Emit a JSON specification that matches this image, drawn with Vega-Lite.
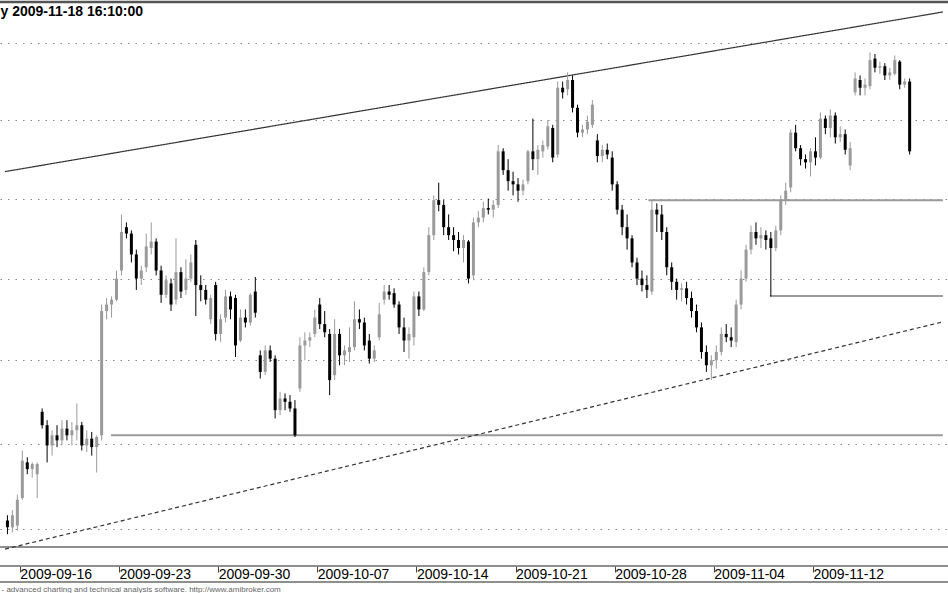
{
  "$schema": "https://vega.github.io/schema/vega-lite/v6.json",
  "width": 948,
  "height": 580,
  "autosize": "none",
  "padding": {"left": 0, "top": 2, "right": 0, "bottom": 11},
  "background": "white",
  "config": {"view": {"stroke": null}, "font": "Liberation Sans"},
  "datasets": {
    "top": [{"p": 2577.3}],
    "frame": [{"p": 2239.6}, {"p": 2228.65}, {"p": 2219.5}],
    "levels": [{"a": 17.9, "b": 185.7, "p": 2305}, {"a": 126.3, "b": 185.7, "p": 2449}, {"a": 150.8, "b": 185.7, "p": 2389.3}],
    "trends": [{"kind": "solid", "a": -3.49, "b": 185.73, "pa": 2467.1, "pb": 2570.7}, {"kind": "dashed", "a": -3.49, "b": 185.73, "pa": 2238.4, "pb": 2373.4}],
    "bars": [
{"i":-3,"o":2255,"h":2258,"l":2247,"c":2251},
{"i":-2,"o":2251,"h":2261,"l":2248,"c":2258},
{"i":-1,"o":2252,"h":2270,"l":2249,"c":2267},
{"i":0,"o":2268,"h":2296,"l":2267,"c":2290},
{"i":1,"o":2289,"h":2292,"l":2282,"c":2285},
{"i":2,"o":2285,"h":2289,"l":2280,"c":2288},
{"i":3,"o":2282,"h":2289,"l":2268,"c":2288},
{"i":4,"o":2319,"h":2321,"l":2309,"c":2311},
{"i":5,"o":2311,"h":2314,"l":2289,"c":2299},
{"i":6,"o":2299,"h":2308,"l":2293,"c":2305},
{"i":7,"o":2305,"h":2311,"l":2298,"c":2302},
{"i":8,"o":2302,"h":2314,"l":2299,"c":2309},
{"i":9,"o":2309,"h":2314,"l":2302,"c":2305},
{"i":10,"o":2305,"h":2313,"l":2299,"c":2308},
{"i":11,"o":2308,"h":2324,"l":2302,"c":2311},
{"i":12,"o":2311,"h":2313,"l":2296,"c":2299},
{"i":13,"o":2299,"h":2308,"l":2295,"c":2303},
{"i":14,"o":2303,"h":2307,"l":2293,"c":2298},
{"i":15,"o":2298,"h":2305,"l":2283,"c":2304},
{"i":16,"o":2305,"h":2384,"l":2302,"c":2380},
{"i":17,"o":2380,"h":2388,"l":2375,"c":2384},
{"i":18,"o":2384,"h":2389,"l":2376,"c":2387},
{"i":19,"o":2387,"h":2405,"l":2386,"c":2400},
{"i":20,"o":2405,"h":2440,"l":2402,"c":2429},
{"i":21,"o":2432,"h":2435,"l":2425,"c":2428},
{"i":22,"o":2428,"h":2430,"l":2410,"c":2415},
{"i":23,"o":2415,"h":2418,"l":2393,"c":2400},
{"i":24,"o":2400,"h":2408,"l":2396,"c":2405},
{"i":25,"o":2407,"h":2428,"l":2404,"c":2420},
{"i":26,"o":2419,"h":2435,"l":2415,"c":2423},
{"i":27,"o":2423,"h":2425,"l":2402,"c":2405},
{"i":28,"o":2405,"h":2408,"l":2385,"c":2390},
{"i":29,"o":2390,"h":2402,"l":2388,"c":2399},
{"i":30,"o":2397,"h":2400,"l":2380,"c":2384},
{"i":31,"o":2387,"h":2425,"l":2384,"c":2404},
{"i":32,"o":2404,"h":2407,"l":2388,"c":2392},
{"i":33,"o":2393,"h":2412,"l":2390,"c":2400},
{"i":34,"o":2400,"h":2415,"l":2398,"c":2410},
{"i":35,"o":2421,"h":2424,"l":2377,"c":2396},
{"i":36,"o":2396,"h":2402,"l":2386,"c":2393},
{"i":37,"o":2393,"h":2396,"l":2384,"c":2387},
{"i":38,"o":2375,"h":2390,"l":2372,"c":2388},
{"i":39,"o":2396,"h":2398,"l":2362,"c":2366},
{"i":40,"o":2366,"h":2378,"l":2361,"c":2375},
{"i":41,"o":2376,"h":2393,"l":2373,"c":2389},
{"i":42,"o":2389,"h":2392,"l":2375,"c":2381},
{"i":43,"o":2388,"h":2390,"l":2352,"c":2359},
{"i":44,"o":2362,"h":2381,"l":2361,"c":2376},
{"i":45,"o":2376,"h":2381,"l":2370,"c":2373},
{"i":46,"o":2373,"h":2391,"l":2371,"c":2390},
{"i":47,"o":2392,"h":2401,"l":2376,"c":2379},
{"i":48,"o":2353,"h":2356,"l":2339,"c":2343},
{"i":49,"o":2343,"h":2359,"l":2341,"c":2356},
{"i":50,"o":2356,"h":2359,"l":2349,"c":2351},
{"i":51,"o":2351,"h":2353,"l":2315,"c":2320},
{"i":52,"o":2320,"h":2331,"l":2317,"c":2327},
{"i":53,"o":2327,"h":2330,"l":2320,"c":2325},
{"i":54,"o":2325,"h":2329,"l":2319,"c":2321},
{"i":55,"o":2321,"h":2326,"l":2304,"c":2305},
{"i":56,"o":2333,"h":2364,"l":2331,"c":2359},
{"i":57,"o":2359,"h":2367,"l":2350,"c":2362},
{"i":58,"o":2362,"h":2367,"l":2358,"c":2364},
{"i":59,"o":2366,"h":2381,"l":2364,"c":2376},
{"i":60,"o":2384,"h":2388,"l":2369,"c":2372},
{"i":61,"o":2372,"h":2380,"l":2364,"c":2367},
{"i":62,"o":2366,"h":2369,"l":2329,"c":2338},
{"i":63,"o":2341,"h":2375,"l":2338,"c":2366},
{"i":64,"o":2366,"h":2369,"l":2347,"c":2353},
{"i":65,"o":2353,"h":2359,"l":2347,"c":2356},
{"i":66,"o":2355,"h":2370,"l":2349,"c":2358},
{"i":67,"o":2358,"h":2386,"l":2356,"c":2375},
{"i":68,"o":2375,"h":2381,"l":2369,"c":2373},
{"i":69,"o":2373,"h":2376,"l":2356,"c":2359},
{"i":70,"o":2362,"h":2366,"l":2348,"c":2351},
{"i":71,"o":2351,"h":2359,"l":2349,"c":2356},
{"i":72,"o":2364,"h":2385,"l":2362,"c":2378},
{"i":73,"o":2387,"h":2396,"l":2384,"c":2392},
{"i":74,"o":2392,"h":2396,"l":2387,"c":2390},
{"i":75,"o":2391,"h":2394,"l":2382,"c":2384},
{"i":76,"o":2384,"h":2386,"l":2366,"c":2370},
{"i":77,"o":2370,"h":2376,"l":2355,"c":2362},
{"i":78,"o":2362,"h":2370,"l":2351,"c":2366},
{"i":79,"o":2364,"h":2392,"l":2359,"c":2389},
{"i":80,"o":2389,"h":2392,"l":2377,"c":2381},
{"i":81,"o":2381,"h":2407,"l":2380,"c":2404},
{"i":82,"o":2404,"h":2432,"l":2402,"c":2427},
{"i":83,"o":2427,"h":2452,"l":2424,"c":2449},
{"i":84,"o":2449,"h":2460,"l":2442,"c":2446},
{"i":85,"o":2446,"h":2449,"l":2427,"c":2432},
{"i":86,"o":2432,"h":2440,"l":2424,"c":2427},
{"i":87,"o":2427,"h":2432,"l":2417,"c":2424},
{"i":88,"o":2424,"h":2429,"l":2415,"c":2419},
{"i":89,"o":2419,"h":2427,"l":2410,"c":2424},
{"i":90,"o":2423,"h":2424,"l":2397,"c":2400},
{"i":91,"o":2402,"h":2438,"l":2399,"c":2435},
{"i":92,"o":2435,"h":2442,"l":2432,"c":2438},
{"i":93,"o":2438,"h":2448,"l":2435,"c":2444},
{"i":94,"o":2444,"h":2450,"l":2440,"c":2443},
{"i":95,"o":2443,"h":2449,"l":2438,"c":2446},
{"i":96,"o":2446,"h":2484,"l":2444,"c":2480},
{"i":97,"o":2480,"h":2482,"l":2465,"c":2468},
{"i":98,"o":2468,"h":2475,"l":2455,"c":2461},
{"i":99,"o":2461,"h":2467,"l":2452,"c":2459},
{"i":100,"o":2459,"h":2463,"l":2448,"c":2455},
{"i":101,"o":2455,"h":2462,"l":2452,"c":2459},
{"i":102,"o":2461,"h":2481,"l":2459,"c":2480},
{"i":103,"o":2480,"h":2501,"l":2468,"c":2475},
{"i":104,"o":2475,"h":2484,"l":2465,"c":2481},
{"i":105,"o":2480,"h":2487,"l":2476,"c":2484},
{"i":106,"o":2483,"h":2500,"l":2481,"c":2496},
{"i":107,"o":2495,"h":2497,"l":2473,"c":2476},
{"i":108,"o":2478,"h":2525,"l":2476,"c":2521},
{"i":109,"o":2521,"h":2525,"l":2514,"c":2518},
{"i":110,"o":2520,"h":2531,"l":2516,"c":2526},
{"i":111,"o":2526,"h":2529,"l":2505,"c":2508},
{"i":112,"o":2508,"h":2510,"l":2489,"c":2492},
{"i":113,"o":2492,"h":2497,"l":2489,"c":2494},
{"i":114,"o":2494,"h":2503,"l":2491,"c":2499},
{"i":115,"o":2497,"h":2513,"l":2495,"c":2510},
{"i":116,"o":2487,"h":2491,"l":2473,"c":2477},
{"i":117,"o":2477,"h":2484,"l":2473,"c":2481},
{"i":118,"o":2481,"h":2485,"l":2475,"c":2478},
{"i":119,"o":2476,"h":2480,"l":2455,"c":2459},
{"i":120,"o":2459,"h":2461,"l":2440,"c":2443},
{"i":121,"o":2443,"h":2446,"l":2427,"c":2432},
{"i":122,"o":2432,"h":2440,"l":2418,"c":2425},
{"i":123,"o":2425,"h":2427,"l":2407,"c":2410},
{"i":124,"o":2410,"h":2413,"l":2396,"c":2400},
{"i":125,"o":2400,"h":2405,"l":2392,"c":2396},
{"i":126,"o":2396,"h":2402,"l":2388,"c":2393},
{"i":127,"o":2392,"h":2449,"l":2390,"c":2443},
{"i":128,"o":2443,"h":2447,"l":2429,"c":2440},
{"i":129,"o":2440,"h":2446,"l":2424,"c":2429},
{"i":130,"o":2429,"h":2432,"l":2402,"c":2407},
{"i":131,"o":2407,"h":2410,"l":2393,"c":2398},
{"i":132,"o":2398,"h":2400,"l":2387,"c":2393},
{"i":133,"o":2393,"h":2397,"l":2386,"c":2394},
{"i":134,"o":2394,"h":2398,"l":2384,"c":2388},
{"i":135,"o":2388,"h":2392,"l":2376,"c":2380},
{"i":136,"o":2380,"h":2384,"l":2367,"c":2370},
{"i":137,"o":2370,"h":2373,"l":2351,"c":2355},
{"i":138,"o":2355,"h":2359,"l":2343,"c":2347},
{"i":139,"o":2347,"h":2353,"l":2338,"c":2350},
{"i":140,"o":2350,"h":2359,"l":2345,"c":2355},
{"i":141,"o":2355,"h":2370,"l":2353,"c":2366},
{"i":142,"o":2366,"h":2372,"l":2361,"c":2364},
{"i":143,"o":2364,"h":2370,"l":2358,"c":2362},
{"i":144,"o":2361,"h":2387,"l":2358,"c":2384},
{"i":145,"o":2384,"h":2405,"l":2381,"c":2400},
{"i":146,"o":2400,"h":2421,"l":2398,"c":2418},
{"i":147,"o":2418,"h":2433,"l":2415,"c":2429},
{"i":148,"o":2429,"h":2435,"l":2421,"c":2425},
{"i":149,"o":2425,"h":2432,"l":2419,"c":2427},
{"i":150,"o":2427,"h":2430,"l":2418,"c":2424},
{"i":151,"o":2425,"h":2429,"l":2389,"c":2419},
{"i":152,"o":2419,"h":2433,"l":2417,"c":2430},
{"i":153,"o":2430,"h":2452,"l":2427,"c":2449},
{"i":154,"o":2449,"h":2460,"l":2446,"c":2455},
{"i":155,"o":2457,"h":2494,"l":2454,"c":2492},
{"i":156,"o":2492,"h":2497,"l":2480,"c":2482},
{"i":157,"o":2482,"h":2484,"l":2471,"c":2475},
{"i":158,"o":2475,"h":2478,"l":2469,"c":2473},
{"i":159,"o":2473,"h":2482,"l":2464,"c":2480},
{"i":160,"o":2480,"h":2489,"l":2471,"c":2476},
{"i":161,"o":2476,"h":2505,"l":2475,"c":2501},
{"i":162,"o":2501,"h":2503,"l":2491,"c":2495},
{"i":163,"o":2495,"h":2507,"l":2489,"c":2503},
{"i":164,"o":2503,"h":2505,"l":2485,"c":2489},
{"i":165,"o":2489,"h":2496,"l":2486,"c":2491},
{"i":166,"o":2491,"h":2494,"l":2478,"c":2481},
{"i":167,"o":2471,"h":2486,"l":2468,"c":2482},
{"i":168,"o":2518,"h":2531,"l":2516,"c":2527},
{"i":169,"o":2526,"h":2529,"l":2516,"c":2521},
{"i":170,"o":2521,"h":2527,"l":2516,"c":2523},
{"i":171,"o":2522,"h":2544,"l":2520,"c":2539},
{"i":172,"o":2540,"h":2543,"l":2531,"c":2534},
{"i":173,"o":2534,"h":2538,"l":2530,"c":2535},
{"i":174,"o":2535,"h":2537,"l":2526,"c":2529},
{"i":175,"o":2529,"h":2534,"l":2526,"c":2531},
{"i":176,"o":2530,"h":2542,"l":2529,"c":2539},
{"i":177,"o":2538,"h":2539,"l":2520,"c":2523},
{"i":178,"o":2523,"h":2527,"l":2521,"c":2525},
{"i":179,"o":2525,"h":2527,"l":2478,"c":2480}
    ]
  },
  "layer": [
    {
      "data": {"name": "top"},
      "mark": {"type": "rule", "color": "#555555", "strokeWidth": 2.5},
      "encoding": {
        "y": {"field": "p", "type": "quantitative",
              "scale": {"type": "log", "domain": [2219.5, 2577.3], "nice": false, "zero": false},
              "axis": {"orient": "left", "values": [2250, 2300, 2350, 2400, 2450, 2500, 2550], "labels": false, "ticks": false, "domain": false, "grid": true, "gridDash": [1.5, 6], "gridColor": "#8a8a8a", "gridWidth": 1,
                       "title": "y 2009-11-18 16:10:00", "titleAngle": 0, "titleX": 0, "titleY": 13, "titleAlign": "left", "titleBaseline": "alphabetic", "titleFont": "Liberation Sans", "titleFontSize": 14, "titleFontWeight": "bold", "titleColor": "#000000"}}
      }
    },
    {
      "data": {"name": "frame"},
      "mark": {"type": "rule", "color": "#6a6a6a", "strokeWidth": 1.5},
      "encoding": {
        "y": {"field": "p", "type": "quantitative"}
      }
    },
    {
      "data": {"name": "levels"},
      "mark": {"type": "rule", "color": "#9a9a9a", "strokeWidth": 2},
      "encoding": {
        "x": {"field": "a", "type": "quantitative", "scale": {"domain": [-3.494, 185.73], "nice": false, "zero": false},
              "axis": {"values": [-0.5, 19.5, 39.5, 59.5, 79.5, 99.5, 119.5, 139.5, 159.5], "labelExpr": "['2009-09-16','2009-09-23','2009-09-30','2009-10-07','2009-10-14','2009-10-21','2009-10-28','2009-11-04','2009-11-12'][round((datum.value+0.5)/20)]", "offset": -16, "domain": false, "grid": false, "tickSize": 6, "tickColor": "#444444", "tickWidth": 1, "labelAlign": "left", "labelDx": 3, "labelBaseline": "alphabetic", "labelPadding": 6, "labelFont": "Liberation Sans", "labelFontSize": 14, "labelColor": "#000000", "labelFlush": false, "labelOverlap": false, "title": "- advanced charting and technical analysis software. http://www.amibroker.com", "titleX": 1, "titleY": 25, "titleAlign": "left", "titleBaseline": "alphabetic", "titleFont": "Liberation Sans", "titleFontSize": 8, "titleFontWeight": "normal", "titleColor": "#666666"}},
        "x2": {"field": "b"},
        "y": {"field": "p", "type": "quantitative"}
      }
    },
    {
      "data": {"name": "trends"},
      "mark": {"type": "rule", "color": "#333333", "strokeWidth": 1.2},
      "encoding": {
        "x": {"field": "a", "type": "quantitative"},
        "x2": {"field": "b"},
        "y": {"field": "pa", "type": "quantitative"},
        "y2": {"field": "pb"},
        "strokeDash": {"field": "kind", "type": "nominal", "scale": {"domain": ["solid", "dashed"], "range": [[1, 0], [4, 3]]}, "legend": null}
      }
    },
    {
      "data": {"name": "bars"},
      "mark": {"type": "rule", "strokeWidth": 1},
      "encoding": {
        "x": {"field": "i", "type": "quantitative"},
        "y": {"field": "l", "type": "quantitative"},
        "y2": {"field": "h"},
        "color": {"condition": {"test": "datum.c >= datum.o", "value": "#9a9a9a"}, "value": "#000000"}
      }
    },
    {
      "data": {"name": "bars"},
      "mark": {"type": "bar", "width": 3},
      "encoding": {
        "x": {"field": "i", "type": "quantitative"},
        "y": {"field": "o", "type": "quantitative"},
        "y2": {"field": "c"},
        "color": {"condition": {"test": "datum.c >= datum.o", "value": "#9a9a9a"}, "value": "#000000"}
      }
    }
  ]
}
